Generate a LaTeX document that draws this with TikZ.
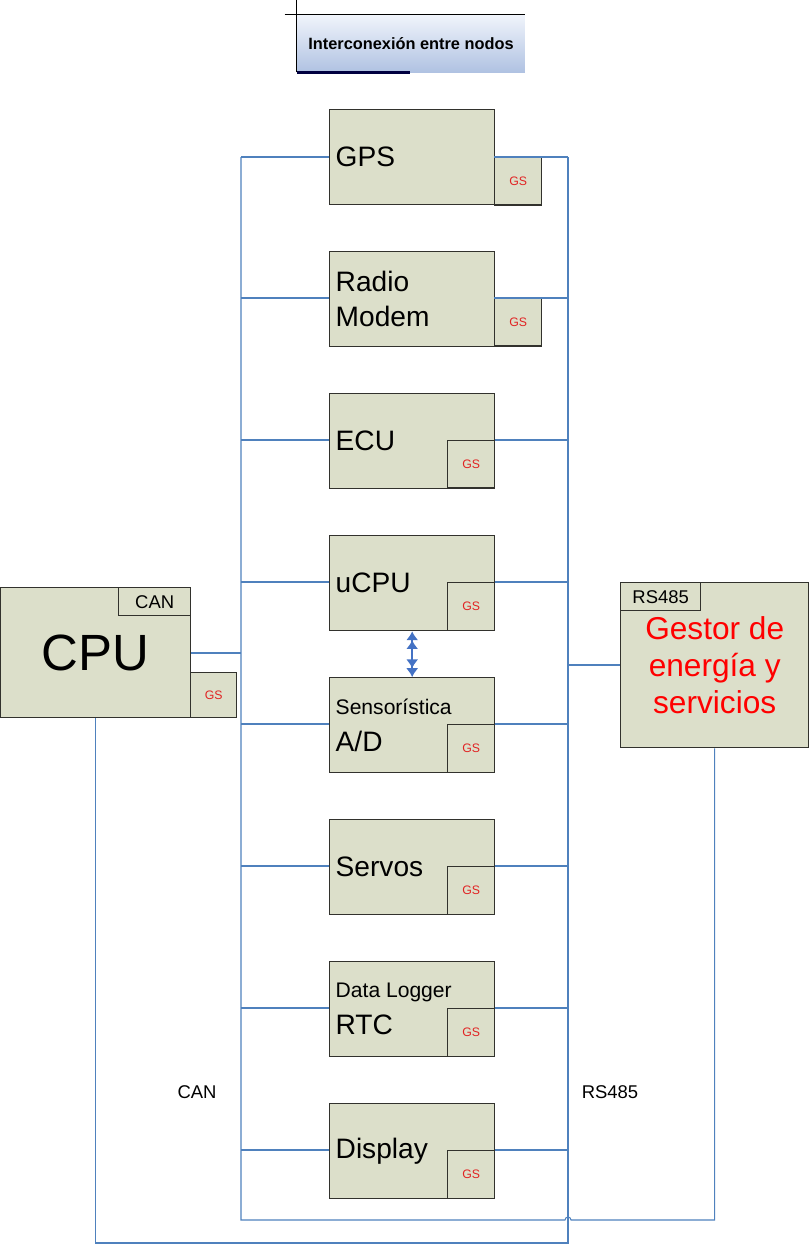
\documentclass[tikz,border=0pt]{standalone}
\usepackage{fontspec}
\setmainfont{Liberation Sans}
\usetikzlibrary{arrows.meta,positioning}
\definecolor{boxfill}{RGB}{220,223,202}
\definecolor{boxline}{RGB}{50,50,45}
\definecolor{busblue}{RGB}{79,129,189}
\definecolor{arrblue}{RGB}{68,114,196}
\definecolor{gsred}{RGB}{225,35,35}
\definecolor{titletop}{RGB}{240,244,251}
\definecolor{titlebot}{RGB}{176,194,226}

\begin{document}
\begin{tikzpicture}[x=0.02cm, y=-0.02cm, >=Latex,
  nd/.style={draw=boxline, fill=boxfill, line width=0.8pt, anchor=north west, minimum height=1.9cm,
    text width=3.06cm, inner xsep=0.12cm, align=flush left, font=\fontsize{16}{20}\selectfont},
  gs/.style={draw=boxline, fill=boxfill, line width=0.8pt, anchor=north west, minimum width=0.94cm,
    minimum height=0.95cm, inner sep=0pt, text=gsred, font=\fontsize{7}{8}\selectfont},
  tag/.style={draw=boxline, fill=boxfill, line width=0.8pt, minimum height=0.56cm, inner sep=0pt,
    font=\fontsize{10.5}{12}\selectfont},
  bus/.style={draw=busblue, line width=0.6pt},
  lbl/.style={font=\fontsize{10.5}{12}\selectfont}]
\useasboundingbox (0,0) rectangle (809,1245);
% title
\node[top color=titletop, bottom color=titlebot, minimum width=4.56cm, minimum height=1.14cm,
      inner sep=0pt, font=\bfseries\fontsize{9.3}{11}\selectfont] (ttl) at (411,43.5) {Interconexión entre nodos};
\draw[line width=0.8pt] (ttl.north west) ++(-12,0) -- (ttl.north east);
\draw[line width=0.8pt] (ttl.south west) -- ++(0,-72);
\draw[line width=1.4pt, draw=black!75!blue] (ttl.south west) -- ++(113,0);
% nodes
\node[nd] (gps) at (329,109) {GPS};
\node[gs] (gpsgs) at (494,157) {GS};
\node[nd] (radio) at (329,251) {Radio\\Modem};
\node[gs] (radiogs) at (494,298) {GS};
\node[nd] (ecu) at (329,393) {ECU};
\node[gs] (ecugs) at (447,440) {GS};
\node[nd] (ucpu) at (329,535) {uCPU};
\node[gs] (ucpugs) at (447,582) {GS};
\node[nd] (sens) at (329,677) {{\fontsize{12}{14}\selectfont Sensorística}\\[1pt]A/D};
\node[gs] (sensgs) at (447,724) {GS};
\node[nd] (servos) at (329,819) {Servos};
\node[gs] (servosgs) at (447,866) {GS};
\node[nd] (logger) at (329,961) {{\fontsize{12}{14}\selectfont \mbox{Data Logger}}\\[1pt]RTC};
\node[gs] (loggergs) at (447,1008) {GS};
\node[nd] (display) at (329,1103) {Display};
\node[gs] (displaygs) at (447,1150) {GS};
% CPU and gestor
\node[draw=boxline, fill=boxfill, line width=0.8pt, anchor=north west, minimum width=3.8cm,
      minimum height=2.6cm, font=\fontsize{29}{32}\selectfont] (cpu) at (0,587) {CPU};
\node[tag, anchor=north east, minimum width=1.44cm] (can) at (cpu.north east) {CAN};
\node[gs, minimum width=0.92cm, minimum height=0.9cm] (cpugs) at (190,672) {GS};
\node[draw=boxline, fill=boxfill, line width=0.8pt, anchor=north west, minimum width=3.76cm,
      minimum height=3.3cm, align=center, text=red, font=\fontsize{18}{21}\selectfont] (gestor) at (620,582)
      {Gestor de\\energía y\\servicios};
\node[tag, anchor=north west, minimum width=1.6cm] (rs) at (gestor.north west) {RS485};
% buses
\coordinate (canbus) at (241,0);
\coordinate (rsbus) at (568,0);
\draw[bus] (canbus |- gpsgs.north) -- (canbus |- 0,1220) -- (565,1220)
  arc[start angle=180, end angle=0, radius=0.06cm] -- (gestor.south |- 0,1220) -- (gestor.south);
\draw[bus] (rsbus |- gpsgs.north) -- (rsbus |- 0,1243) -- (cpu.south |- 0,1243) -- (cpu.south);
\draw[bus] (gps.west |- gpsgs.north) -- (canbus |- gpsgs.north);
\draw[bus] (gpsgs.north west) -- (rsbus |- gpsgs.north);
\draw[bus] (radio.west |- radiogs.north) -- (canbus |- radiogs.north);
\draw[bus] (radiogs.north west) -- (rsbus |- radiogs.north);
\draw[bus] (ecu.west |- ecugs.north) -- (canbus |- ecugs.north);
\draw[bus] (ecugs.north east) -- (rsbus |- ecugs.north);
\draw[bus] (ucpu.west |- ucpugs.north) -- (canbus |- ucpugs.north);
\draw[bus] (ucpugs.north east) -- (rsbus |- ucpugs.north);
\draw[bus] (sens.west |- sensgs.north) -- (canbus |- sensgs.north);
\draw[bus] (sensgs.north east) -- (rsbus |- sensgs.north);
\draw[bus] (servos.west |- servosgs.north) -- (canbus |- servosgs.north);
\draw[bus] (servosgs.north east) -- (rsbus |- servosgs.north);
\draw[bus] (logger.west |- loggergs.north) -- (canbus |- loggergs.north);
\draw[bus] (loggergs.north east) -- (rsbus |- loggergs.north);
\draw[bus] (display.west |- displaygs.north) -- (canbus |- displaygs.north);
\draw[bus] (displaygs.north east) -- (rsbus |- displaygs.north);
\draw[bus, line width=1.2pt] (cpu.east) -- (canbus |- cpu.east);
\draw[bus, line width=1.2pt] (rsbus |- gestor.west) -- (gestor.west);
% uCPU <-> sensors
\draw[{Latex[length=5pt,width=7pt]Latex[length=5pt,width=7pt]}-{Latex[length=5pt,width=7pt]Latex[length=5pt,width=7pt]},
      draw=arrblue, fill=arrblue, line width=1.1pt] (ucpu.south) -- (sens.north);
% bus labels
\node[lbl] (canlbl) at (197,1092) {CAN};
\node[lbl] (rslbl) at (610,1092) {RS485};
\end{tikzpicture}
\end{document}
